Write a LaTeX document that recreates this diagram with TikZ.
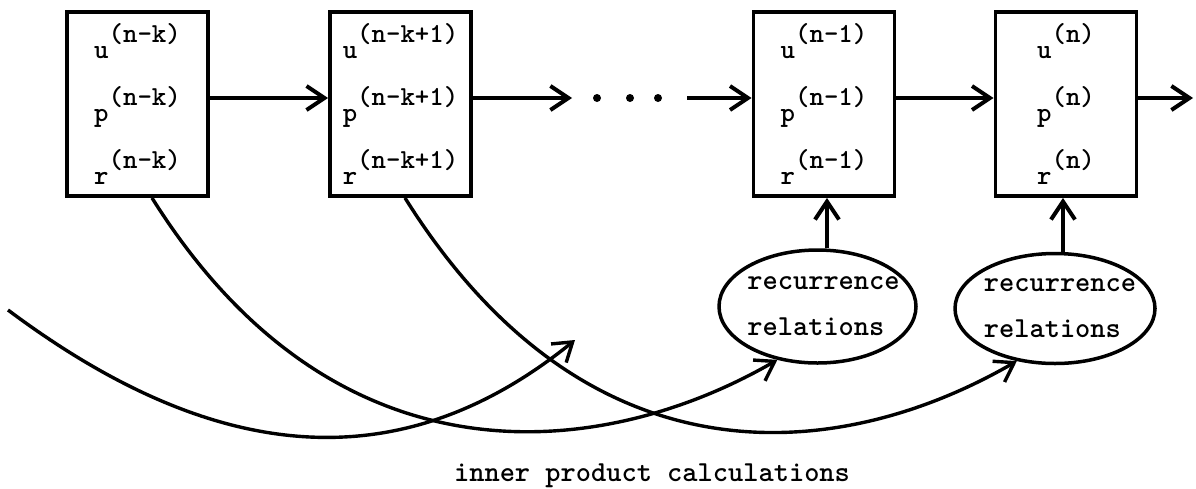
\documentclass[tikz,border=0pt]{standalone}
\usepackage{fontspec}
\usetikzlibrary{arrows.meta,shapes.geometric}
\newcommand\sx[2]{#1\raisebox{16pt}{#2}}
\begin{document}
\begin{tikzpicture}[x=1pt,y=-1pt,
  box/.style={draw, line width=3.8pt, minimum width=141pt, minimum height=184pt, inner sep=0pt, align=left, font=\ttfamily\bfseries\fontsize{27.5}{63}\selectfont},
  ell/.style={draw, ellipse, line width=3.5pt, inner sep=0pt},
  etext/.style={align=left, inner sep=0pt, font=\ttfamily\bfseries\fontsize{29}{46}\selectfont},
  arr/.style={line width=4pt, -{Straight Barb[length=18pt,width=24pt]}},
  curve/.style={line width=3.4pt, -{Straight Barb[length=18pt,width=24pt]}},
  dot/.style={circle, fill, minimum size=8pt, inner sep=0pt}]
\useasboundingbox (0,0) rectangle (1196,488);
\node[box] (b1) at (137.5,104) {\sx{u}{(n-k)}\\\sx{p}{(n-k)}\\\sx{r}{(n-k)}};
\node[box] (b2) at (400.5,104) {\sx{u}{(n-k+1)}\\\sx{p}{(n-k+1)}\\\sx{r}{(n-k+1)}};
\node[box] (b3) at (824,104) {\sx{u}{(n-1)}\\\sx{p}{(n-1)}\\\sx{r}{(n-1)}};
\node[box] (b4) at (1066,104) {\sx{u}{(n)}\\\sx{p}{(n)}\\\sx{r}{(n)}};
\node[ell, minimum width=197pt, minimum height=113pt] (e1) at (817.5,306.5) {};
\node[ell, minimum width=200pt, minimum height=110pt] (e2) at (1055,308.5) {};
\node[etext] (t1) at ([xshift=6pt]e1.center) {recurrence\\relations};
\node[etext] (t2) at ([xshift=5pt]e2.center) {recurrence\\relations};
\coordinate (a0) at (8,310);
\coordinate (a1) at (575,340);
\coordinate (h1) at (572,98);
\coordinate (h2) at (687,98);
\coordinate (h3) at (1193,98);
\node[dot] (d1) at (597,98) {};
\node[dot] (d2) at (630,98) {};
\node[dot] (d3) at (658,98) {};
\draw[arr] ([yshift=6pt]b1.east) -- ([yshift=6pt]b2.west);
\draw[arr] ([yshift=6pt]b2.east) -- (h1);
\draw[arr] (h2) -- ([yshift=6pt]b3.west);
\draw[arr] ([yshift=6pt]b3.east) -- ([yshift=6pt]b4.west);
\draw[arr] ([yshift=6pt]b4.east) -- (h3);
\draw[arr] ([xshift=9.5pt]e1.north) -- ([xshift=9.5pt]e1.north |- b3.south);
\draw[arr] ([xshift=8pt]e2.north) -- ([xshift=8pt]e2.north |- b4.south);
\draw[curve] (a0) .. controls +(202,151) and +(-179,145) .. (a1);
\draw[curve] ([xshift=14.5pt]b1.south) .. controls +(186,297) and +(-171,99) .. (e1.233);
\draw[curve] ([xshift=4.5pt]b2.south) .. controls +(186,297) and +(-171,99) .. (e2.234);
\node[etext, anchor=base] (lab) at (652,481) {inner product calculations};
\end{tikzpicture}
\end{document}
